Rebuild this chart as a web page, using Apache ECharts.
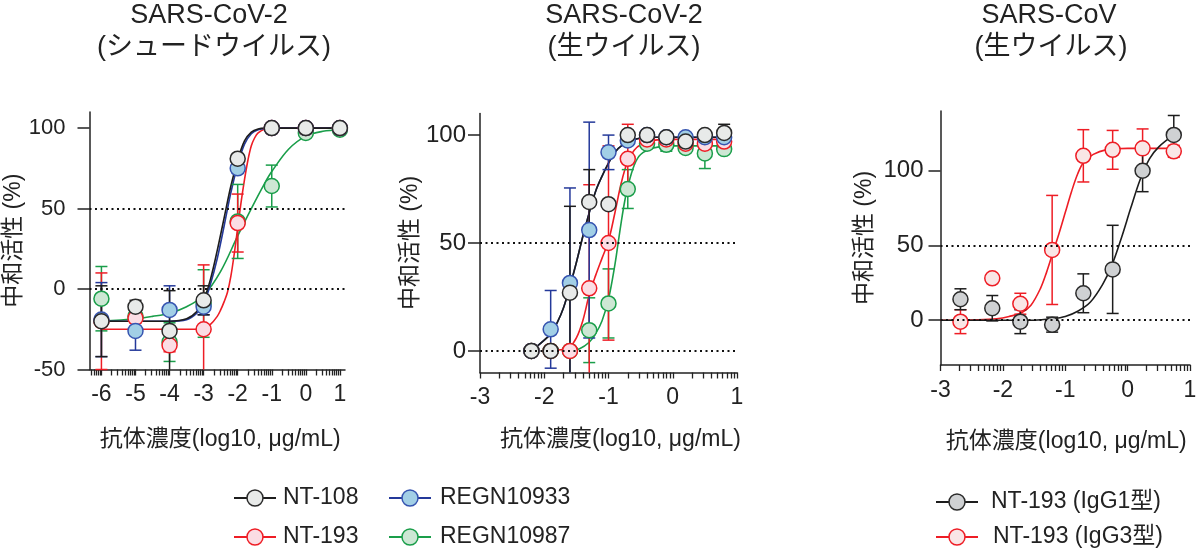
<!DOCTYPE html>
<html><head><meta charset="utf-8">
<script src="https://cdn.jsdelivr.net/npm/echarts@6/dist/echarts.min.js"></script>
<style>html,body{margin:0;padding:0;background:#fff}#c{width:1200px;height:555px}</style>
</head><body><div id="c"></div>
<script>
// ---------- Panel 1: SARS-CoV-2 pseudovirus ----------
const PV_X = [-6, -5, -4, -3, -2, -1, 0, 1];
const PV_TICKS = [-6, -5, -4, -3, -2, -1, 0, 1];
const PV_YTICKS = [-50, 0, 50, 100];
const PV_NT108 = [-20, -11, -26, -7, 81, 100, 100, 100];
const PV_NT108_ERR = [22, 4, 25, 9, 2, 0, 0, 0];
const PV_NT193 = [-20, -18, -35, -25, 41, 100, 100, 100];
const PV_NT193_ERR = [30, 3, 4, 40, 18, 0, 0, 0];
const PV_R33 = [-19, -26, -13, -11, 75, 100, 100, 100];
const PV_R33_ERR = [23, 12, 15, 5, 3, 0, 0, 0];
const PV_R87 = [-6, -17, -33, -9, 42, 64, 97, 99];
const PV_R87_ERR = [20, 3, 12, 21, 23, 13, 0, 0];
const PV_FIT_NT108_X = [-6, -4, -3.5, -3.2, -3, -2.8, -2.6, -2.4, -2.2, -2, -1.8, -1.6, -1.4, -1.2, -1, 0, 1];
const PV_FIT_NT108_Y = [-20, -20, -18.5, -14, -7, 6, 24, 44, 64, 80, 92, 97.5, 99.5, 100, 100, 100, 100];
const PV_FIT_R33_X = [-6, -4, -3.5, -3.2, -3, -2.8, -2.6, -2.4, -2.2, -2, -1.8, -1.6, -1.4, -1.2, -1, 0, 1];
const PV_FIT_R33_Y = [-20, -20, -19, -15, -9, 3, 19, 39, 60, 77, 90, 96.5, 99, 99.7, 100, 100, 100];
const PV_FIT_NT193_X = [-6, -3.2, -3, -2.8, -2.6, -2.5, -2.4, -2.3, -2.2, -2.1, -2, -1.9, -1.8, -1.7, -1.6, -1.5, -1.4, -1.2, -1, 0, 1];
const PV_FIT_NT193_Y = [-25, -25, -24.5, -22, -17, -13, -8, -2, 8, 22, 38, 54, 68, 80, 89, 94, 97, 99.5, 100, 100, 100];
const PV_FIT_R87_X = [-6, -5, -4.5, -4, -3.5, -3, -2.5, -2, -1.6, -1.2, -1, -0.5, 0, 0.5, 1];
const PV_FIT_R87_Y = [-20, -18.5, -17, -15, -11, -4, 11, 33, 50, 66, 73, 87, 95, 98, 99];

// ---------- Panel 2: SARS-CoV-2 live virus ----------
const LV_X = [-2.2, -1.9, -1.6, -1.3, -1.0, -0.7, -0.4, -0.1, 0.2, 0.5, 0.8];
const LV_TICKS = [-3, -2, -1, 0, 1];
const LV_YTICKS = [0, 50, 100];
const LV_NT108 = [0, 0, 27, 69, 68, 100, 100, 99, 97, 100, 101];
const LV_NT108_ERR = [0, 0, 40, 15, 0, 0, 0, 0, 0, 2, 4];
const LV_NT193 = [0, 0, 0, 29, 50, 89, 98, 98, 96, 96, 97];
const LV_NT193_ERR = [0, 0, 0, 48, 45, 16, 3, 0, 0, 4, 3];
const LV_R33 = [0, 10, 31.5, 56, 92, 97.5, 100, 99, 99, 99, 99];
const LV_R33_ERR = [0, 18, 44, 50, 8, 0, 0, 0, 0, 0, 0];
const LV_R87 = [0, 0, 0, 9.6, 22, 75, 96, 95.5, 94, 91.5, 93.5];
const LV_R87_ERR = [0, 0, 0, 15, 16, 9, 0, 3, 2, 7, 2];
const LV_FIT_NT108_X = [-2.22, -2.1, -2.0, -1.9, -1.8, -1.7, -1.6, -1.5, -1.4, -1.3, -1.2, -1.1, -1.0, -0.9, -0.8, -0.6, -0.3, 0.8];
const LV_FIT_NT108_Y = [0, 2.5, 5, 8, 13, 20, 30, 41, 53, 64, 74, 81, 87, 92, 95, 98, 99, 99];
const LV_FIT_R33_X = [-2.22, -2.1, -2.0, -1.9, -1.8, -1.7, -1.6, -1.5, -1.4, -1.3, -1.2, -1.1, -1.0, -0.9, -0.8, -0.6, -0.3, 0.8];
const LV_FIT_R33_Y = [0, 2.5, 5, 8, 13, 20, 30, 41, 53, 64, 74, 81, 87, 92, 95, 98, 99, 99];
const LV_FIT_NT193_X = [-1.9, -1.75, -1.6, -1.5, -1.4, -1.3, -1.2, -1.1, -1.0, -0.9, -0.8, -0.7, -0.6, -0.5, -0.3, 0, 0.8];
const LV_FIT_NT193_Y = [0, 0.5, 2, 6, 14, 26, 35, 43, 51, 64, 78, 88, 93, 95.5, 97.5, 98, 98];
const LV_FIT_R87_X = [-1.6, -1.45, -1.3, -1.2, -1.1, -1.0, -0.9, -0.85, -0.8, -0.75, -0.7, -0.6, -0.5, -0.3, 0, 0.8];
const LV_FIT_R87_Y = [0, 1, 4, 8, 14, 24, 40, 50, 60, 69, 76, 86, 91, 94, 95, 95];

// ---------- Panel 3: SARS-CoV live virus ----------
const WT_X = [-2.68, -2.17, -1.72, -1.21, -0.71, -0.24, 0.24, 0.74];
const WT_TICKS = [-3, -2, -1, 0, 1];
const WT_YTICKS = [0, 50, 100];
const WT_IGG1 = [14, 8, -1, -3, 18, 34, 100, 124];
const WT_IGG1_ERR = [7, 8.5, 8, 5, 13, 29.5, 14, 13];
const WT_IGG3 = [-1, 28, 11, 47, 110, 114, 115, 113];
const WT_IGG3_ERR = [8, 0, 7, 36.5, 17.5, 13, 13, 4];
const WT_FIT_IGG1_X = [-3, -1.5, -1.2, -1.0, -0.8, -0.6, -0.4, -0.25, -0.1, 0.05, 0.2, 0.35, 0.5, 0.74];
const WT_FIT_IGG1_Y = [0, 0, 1, 2.5, 6, 12, 24, 37, 55, 75, 94, 108, 116, 124];
const WT_FIT_IGG3_X = [-3, -2.4, -2.1, -1.9, -1.7, -1.55, -1.4, -1.3, -1.2, -1.1, -1.0, -0.9, -0.8, -0.7, -0.55, -0.35, 0, 0.74];
const WT_FIT_IGG3_Y = [0, 0.3, 1, 2.5, 5, 10, 21, 32, 45, 58, 72, 86, 98, 106, 111, 114, 115, 115];

const FONT = '"Liberation Sans", Arial, "Noto Sans CJK JP", sans-serif';
const INK = '#222';
const COL = {
  nt108: {line: '#1d1d1d', fill: '#e8eae9', border: '#2a2a2a'},
  nt193: {line: '#ee1d25', fill: '#fbdde4', border: '#ee1d25'},
  r33:   {line: '#24399a', fill: '#a2cfe6', border: '#3654b0'},
  r87:   {line: '#1a9e4a', fill: '#cde7d4', border: '#1a9e4a'},
  igg1:  {line: '#1d1d1d', fill: '#cfd1d3', border: '#2a2a2a'},
  igg3:  {line: '#ee1d25', fill: '#f9e6e6', border: '#ee1d25'}
};

// log-scale minor tick positions (axis decoration): decade + log10(k), k = 2..9
const LOG_K = [2, 3, 4, 5, 6, 7, 8, 9];
function minorTicks(lo, hi) {
  const out = [];
  const d0 = Math.floor(lo) - 1, d1 = Math.ceil(hi);
  for (let d = d0; d <= d1; d++) {
    for (let j = 0; j < LOG_K.length; j++) {
      const v = d + Math.log(LOG_K[j]) / Math.LN10;
      if (v > lo && v < hi) out.push(Math.round(v * 10000) / 10000);
    }
  }
  return out;
}

const grids = [
  {left: 89.5, top: 112, width: 255.5, height: 257.5},
  {left: 480, top: 113.5, width: 257, height: 259},
  {left: 940.5, top: 111, width: 249.5, height: 254}
];
const xr = [[-6.35, 1.15], [-3, 1], [-3, 1]];
const yr = [[-50, 110], [-10, 110], [-30, 140]];
const xt = [PV_TICKS, LV_TICKS, WT_TICKS];
const yt = [PV_YTICKS, LV_YTICKS, WT_YTICKS];
const yLabelMargin = [24, 14, 17];
const yLabelSize = [22, 24, 24];
const yNameGap = [62, 58, 64];
const xNameGap = [59, 56, 65];
const xNamePad = [[0, 0, 0, 6], [0, 0, 0, 24], [0, 0, 0, 2]];

const xAxes = [], yAxes = [];
for (let g = 0; g < 3; g++) {
  const allTicks = xt[g].concat(minorTicks(xr[g][0], xr[g][1])).sort((a, b) => a - b);
  xAxes.push({
    gridIndex: g, type: 'value', min: xr[g][0], max: xr[g][1], position: 'bottom',
    name: '抗体濃度(log10, μg/mL)', nameLocation: 'middle', nameGap: xNameGap[g],
    nameTextStyle: {fontFamily: FONT, fontSize: 23, color: INK, padding: xNamePad[g]},
    axisLine: {show: true, onZero: false, lineStyle: {color: INK, width: 1.5}},
    axisTick: {show: true, customValues: allTicks, length: 6, lineStyle: {color: INK, width: 1.3}},
    axisLabel: {customValues: xt[g], margin: 14, fontFamily: FONT, fontSize: 23, color: INK},
    splitLine: {show: false}
  });
  yAxes.push({
    gridIndex: g, type: 'value', min: yr[g][0], max: yr[g][1],
    name: '中和活性 (%)', nameLocation: 'middle', nameGap: yNameGap[g],
    nameTextStyle: {fontFamily: FONT, fontSize: 23, color: INK},
    axisLine: {show: true, onZero: false, lineStyle: {color: INK, width: 1.5}},
    axisTick: {show: true, customValues: yt[g], length: 12, lineStyle: {color: INK, width: 1.5}},
    axisLabel: {customValues: yt[g], margin: yLabelMargin[g], fontFamily: FONT, fontSize: yLabelSize[g], color: INK},
    splitLine: {show: false}
  });
}

function errItem(params, api) {
  const x = api.value(0), y = api.value(1), e = api.value(2);
  if (!(e > 0)) return null;
  const cs = params.coordSys;
  const p = api.coord([x, y]);
  const t = api.coord([x, y + e])[1];
  const b = api.coord([x, y - e])[1];
  const top = cs.y, bot = cs.y + cs.height;
  const color = api.visual('color');
  const st = {stroke: color, lineWidth: 1.5};
  const children = [{type: 'line', shape: {x1: p[0], y1: Math.max(t, top), x2: p[0], y2: Math.min(b, bot)}, style: st}];
  if (t >= top) children.push({type: 'line', shape: {x1: p[0] - 6, y1: t, x2: p[0] + 6, y2: t}, style: st});
  if (b <= bot) children.push({type: 'line', shape: {x1: p[0] - 6, y1: b, x2: p[0] + 6, y2: b}, style: st});
  return {type: 'group', children};
}

const series = [];
function addSet(g, name, c, xs, ys, errs, fx, fy, withRef) {
  const line = {
    name, type: 'line', xAxisIndex: g, yAxisIndex: g, z: 2,
    data: fx.map((x, i) => [x, fy[i]]), showSymbol: false, symbol: 'none',
    smooth: 0.35,
    lineStyle: {color: c.line, width: 1.6}, itemStyle: {color: c.line},
    silent: true, animation: false
  };
  if (withRef) {
    line.markLine = {
      silent: true, symbol: 'none', label: {show: false}, animation: false,
      lineStyle: {color: '#111', type: [2, 3.5], width: 2},
      data: [{yAxis: 0}, {yAxis: 50}]
    };
  }
  series.push(line);
  series.push({
    name, type: 'custom', xAxisIndex: g, yAxisIndex: g, z: 3,
    data: xs.map((x, i) => [x, ys[i], errs[i]]),
    renderItem: errItem, itemStyle: {color: c.line}, silent: true, animation: false
  });
  series.push({
    name, type: 'scatter', xAxisIndex: g, yAxisIndex: g, z: 4,
    data: xs.map((x, i) => [x, ys[i]]), symbol: 'circle', symbolSize: 15,
    itemStyle: {color: c.fill, borderColor: c.border, borderWidth: 1.5, opacity: 1},
    silent: true, animation: false
  });
}

addSet(0, 'REGN10987', COL.r87, PV_X, PV_R87, PV_R87_ERR, PV_FIT_R87_X, PV_FIT_R87_Y, true);
addSet(0, 'NT-193', COL.nt193, PV_X, PV_NT193, PV_NT193_ERR, PV_FIT_NT193_X, PV_FIT_NT193_Y, false);
addSet(0, 'REGN10933', COL.r33, PV_X, PV_R33, PV_R33_ERR, PV_FIT_R33_X, PV_FIT_R33_Y, false);
addSet(0, 'NT-108', COL.nt108, PV_X, PV_NT108, PV_NT108_ERR, PV_FIT_NT108_X, PV_FIT_NT108_Y, false);

addSet(1, 'REGN10987', COL.r87, LV_X, LV_R87, LV_R87_ERR, LV_FIT_R87_X, LV_FIT_R87_Y, true);
addSet(1, 'NT-193', COL.nt193, LV_X, LV_NT193, LV_NT193_ERR, LV_FIT_NT193_X, LV_FIT_NT193_Y, false);
addSet(1, 'REGN10933', COL.r33, LV_X, LV_R33, LV_R33_ERR, LV_FIT_R33_X, LV_FIT_R33_Y, false);
addSet(1, 'NT-108', COL.nt108, LV_X, LV_NT108, LV_NT108_ERR, LV_FIT_NT108_X, LV_FIT_NT108_Y, false);

addSet(2, 'NT-193 (IgG3型)', COL.igg3, WT_X, WT_IGG3, WT_IGG3_ERR, WT_FIT_IGG3_X, WT_FIT_IGG3_Y, true);
addSet(2, 'NT-193 (IgG1型)', COL.igg1, WT_X, WT_IGG1, WT_IGG1_ERR, WT_FIT_IGG1_X, WT_FIT_IGG1_Y, false);

// ---------- titles & legends (graphic) ----------
const graphics = [];
function title(cx, cy, text) {
  graphics.push({type: 'text', x: cx, y: cy, silent: true,
    style: {text, fontFamily: FONT, fontSize: 27, fill: INK, align: 'center', verticalAlign: 'middle'}});
}
title(209, 16, 'SARS-CoV-2');
title(214, 48, '(シュードウイルス)');
title(624, 16, 'SARS-CoV-2');
title(624, 48, '(生ウイルス)');
title(1049, 16, 'SARS-CoV');
title(1051, 48, '(生ウイルス)');

function legendItem(cx, cy, tx, name, c) {
  graphics.push({type: 'line', silent: true, shape: {x1: cx - 21, y1: cy, x2: cx + 21, y2: cy}, style: {stroke: c.line, lineWidth: 1.8}});
  graphics.push({type: 'circle', silent: true, shape: {cx, cy, r: 8}, style: {fill: c.fill, stroke: c.border, lineWidth: 1.5}});
  graphics.push({type: 'text', silent: true, x: tx, y: cy,
    style: {text: name, fontFamily: FONT, fontSize: 23, fill: INK, align: 'left', verticalAlign: 'middle'}});
}
legendItem(255, 498, 283, 'NT-108', COL.nt108);
legendItem(255, 537, 283, 'NT-193', COL.nt193);
legendItem(410, 498, 440, 'REGN10933', COL.r33);
legendItem(410, 537, 440, 'REGN10987', COL.r87);
legendItem(957, 502, 991, 'NT-193 (IgG1型)', COL.igg1);
legendItem(957, 537, 993, 'NT-193 (IgG3型)', COL.igg3);

const chart = echarts.init(document.getElementById('c'), null, {renderer: 'canvas'});
chart.setOption({
  animation: false,
  backgroundColor: '#fff',
  grid: grids,
  xAxis: xAxes,
  yAxis: yAxes,
  series,
  graphic: graphics
});
</script>
</body></html>
